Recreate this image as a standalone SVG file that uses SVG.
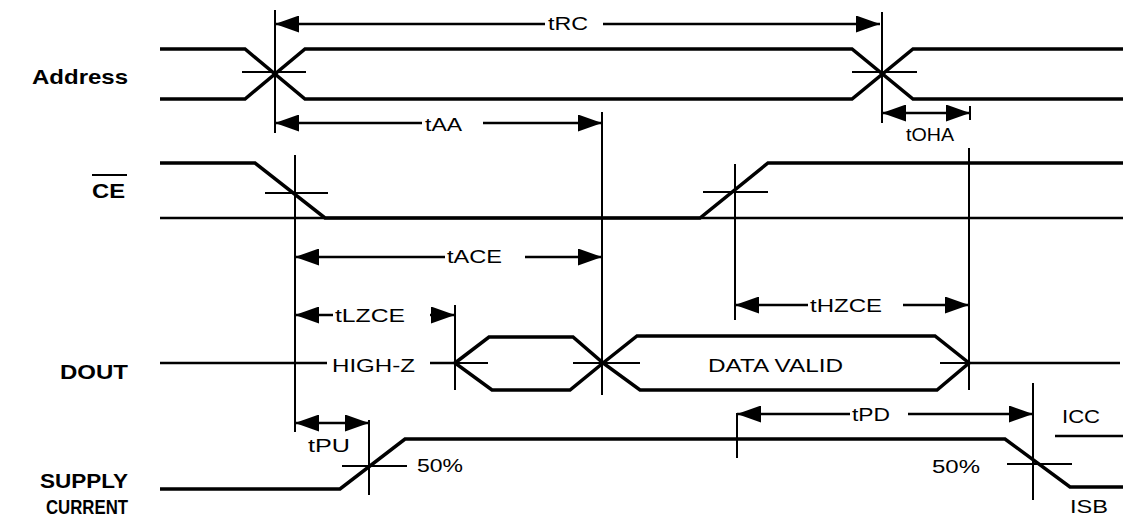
<svg xmlns="http://www.w3.org/2000/svg" width="1127" height="519" viewBox="0 0 1127 519">
<style>
.w{stroke:#000;stroke-width:3.5;fill:none;stroke-linejoin:miter}
.r{stroke:#000;stroke-width:2.5;fill:none}
.t{stroke:#000;stroke-width:2;fill:none}
.a{stroke:#000;stroke-width:2.5;fill:none}
.as{marker-start:url(#ah)}
.ae{marker-end:url(#ah)}
.lbl{font-family:"Liberation Sans",Arial,Helvetica,sans-serif;font-size:18px;fill:#000}
.sig{font-family:"Liberation Sans",Arial,Helvetica,sans-serif;font-size:21px;font-weight:bold;fill:#000}
</style>
<defs>
<marker id="ah" viewBox="0 0 24 17" refX="24" refY="8.5" markerWidth="24" markerHeight="17" markerUnits="userSpaceOnUse" orient="auto-start-reverse">
<path d="M0,0 L24,8.5 L0,17 Z" fill="#000"/>
</marker>
</defs>
<rect width="1127" height="519" fill="#fff"/>

<g id="labels">
<text class="sig" x="32" y="84" textLength="96" lengthAdjust="spacingAndGlyphs">Address</text>
<text class="sig" x="92" y="198" textLength="33" lengthAdjust="spacingAndGlyphs">CE</text>
<line class="t" x1="92" y1="175" x2="127" y2="175"/>
<text class="sig" x="60" y="379" textLength="68" lengthAdjust="spacingAndGlyphs">DOUT</text>
<text class="sig" x="40" y="488" textLength="88" lengthAdjust="spacingAndGlyphs">SUPPLY</text>
<text class="sig" x="46" y="514" textLength="82" lengthAdjust="spacingAndGlyphs">CURRENT</text>
</g>

<g id="address">
<polyline class="w" points="160,49 245,49 305,99 852,99 913,49 1123,49"/>
<polyline class="w" points="160,99 245,99 305,49 852,49 913,99 1123,99"/>
<line class="t" x1="242" y1="72" x2="306" y2="72"/>
<line class="t" x1="852" y1="72" x2="917" y2="72"/>
</g>

<g id="ce">
<line class="r" x1="160" y1="218" x2="1123" y2="218"/>
<polyline class="w" points="160,163 255,163 325,218 700,218 768,163 1123,163"/>
<line class="t" x1="265" y1="193" x2="328" y2="193"/>
<line class="t" x1="703" y1="192" x2="768" y2="192"/>
</g>

<g id="dout">
<line class="r" x1="160" y1="363" x2="327" y2="363"/>
<line class="r" x1="430" y1="363" x2="455" y2="363"/>
<polygon class="w" points="455,363 489,337 573,337 603,363 570,390 492,390"/>
<polygon class="w" points="603,363 637,336 935,336 969,363 937,390 640,390"/>
<line class="r" x1="969" y1="363" x2="1120" y2="363"/>
<line class="t" x1="455" y1="363" x2="488" y2="363"/>
<line class="t" x1="573" y1="363" x2="640" y2="363"/>
<line class="t" x1="940" y1="363" x2="969" y2="363"/>
<text class="lbl" x="332" y="372" textLength="83" lengthAdjust="spacingAndGlyphs">HIGH-Z</text>
<text class="lbl" x="708" y="372" textLength="135" lengthAdjust="spacingAndGlyphs">DATA VALID</text>
</g>

<g id="supply">
<polyline class="w" points="160,489 340,489 405,439 1005,439 1070,487 1123,487"/>
<line class="r" x1="1055" y1="436" x2="1123" y2="436"/>
<line class="t" x1="342" y1="466" x2="407" y2="466"/>
<line class="t" x1="1007" y1="464" x2="1072" y2="464"/>
<text class="lbl" x="417" y="472" textLength="46" lengthAdjust="spacingAndGlyphs">50%</text>
<text class="lbl" x="932" y="473" textLength="48" lengthAdjust="spacingAndGlyphs">50%</text>
<text class="lbl" x="1062" y="423" textLength="38" lengthAdjust="spacingAndGlyphs">ICC</text>
<text class="lbl" x="1070" y="513" font-size="16" textLength="38" lengthAdjust="spacingAndGlyphs">ISB</text>
</g>

<g id="connectors">
<!-- reference verticals -->
<line class="t" x1="275" y1="10" x2="275" y2="133"/>
<line class="t" x1="882" y1="12" x2="882" y2="123"/>
<line class="t" x1="970" y1="106" x2="970" y2="120"/>
<line class="t" x1="602" y1="112" x2="602" y2="395"/>
<line class="t" x1="295" y1="155" x2="295" y2="432"/>
<line class="t" x1="735" y1="164" x2="735" y2="320"/>
<line class="t" x1="969" y1="148" x2="969" y2="390"/>
<line class="t" x1="455" y1="305" x2="455" y2="390"/>
<line class="t" x1="369" y1="420" x2="369" y2="495"/>
<line class="t" x1="737" y1="413" x2="737" y2="458"/>
<line class="t" x1="1033" y1="383" x2="1033" y2="500"/>

<!-- tRC -->
<line class="a as" x1="275" y1="24" x2="545" y2="24"/>
<line class="a ae" x1="603" y1="24" x2="880" y2="24"/>
<text class="lbl" x="548" y="30" textLength="40" lengthAdjust="spacingAndGlyphs">tRC</text>
<!-- tAA -->
<line class="a as" x1="275" y1="123" x2="422" y2="123"/>
<line class="a ae" x1="483" y1="123" x2="602" y2="123"/>
<text class="lbl" x="425" y="131" textLength="37" lengthAdjust="spacingAndGlyphs">tAA</text>
<!-- tOHA -->
<line class="a as ae" x1="882" y1="113" x2="970" y2="113"/>
<text class="lbl" x="906" y="141" textLength="48" lengthAdjust="spacingAndGlyphs">tOHA</text>
<!-- tACE -->
<line class="a as" x1="295" y1="257" x2="445" y2="257"/>
<line class="a ae" x1="525" y1="257" x2="602" y2="257"/>
<text class="lbl" x="447" y="263" textLength="55" lengthAdjust="spacingAndGlyphs">tACE</text>
<!-- tLZCE -->
<line class="a as" x1="295" y1="315" x2="333" y2="315"/>
<line class="a ae" x1="430" y1="315" x2="455" y2="315"/>
<text class="lbl" x="335" y="322" textLength="70" lengthAdjust="spacingAndGlyphs">tLZCE</text>
<!-- tHZCE -->
<line class="a as" x1="735" y1="305" x2="808" y2="305"/>
<line class="a ae" x1="903" y1="305" x2="969" y2="305"/>
<text class="lbl" x="810" y="312" textLength="72" lengthAdjust="spacingAndGlyphs">tHZCE</text>
<!-- tPU -->
<line class="a as ae" x1="295" y1="423" x2="369" y2="423"/>
<text class="lbl" x="308" y="452" textLength="42" lengthAdjust="spacingAndGlyphs">tPU</text>
<!-- tPD -->
<line class="a as" x1="737" y1="414" x2="850" y2="414"/>
<line class="a ae" x1="908" y1="414" x2="1033" y2="414"/>
<text class="lbl" x="852" y="421" textLength="38" lengthAdjust="spacingAndGlyphs">tPD</text>
</g>
</svg>
